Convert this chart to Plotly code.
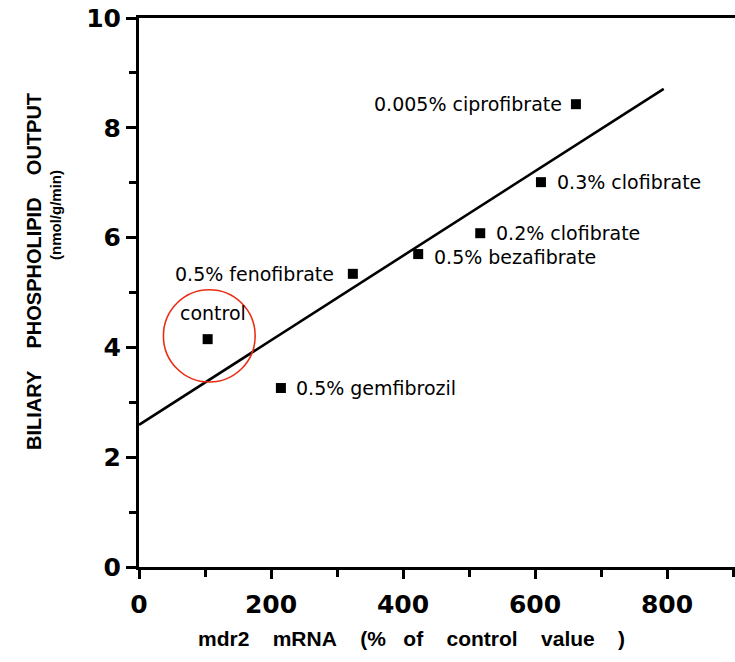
import plotly.graph_objects as go

# Data
drugs = ["control", "0.5% gemfibrozil", "0.5% fenofibrate", "0.5% bezafibrate",
         "0.2% clofibrate", "0.3% clofibrate", "0.005% ciprofibrate"]
mdr2_mrna = [104, 215, 324, 423, 517, 609, 662]
phospholipid = [4.15, 3.26, 5.34, 5.70, 6.08, 7.01, 8.43]

# regression line end points
fit_x = [0, 795]
fit_y = [2.59, 8.71]

x_tickvals = [0, 200, 400, 600, 800]
x_minor = [100, 300, 500, 700, 900]
y_tickvals = [0, 2, 4, 6, 8, 10]
y_minor = [1, 3, 5, 7, 9]

# highlight circle around control (data coords)
circle_box = dict(x0=37, x1=176, y0=3.37, y1=5.05)

# label placement (style): (xanchor, xshift, yshift)
label_place = [("center", 5, 26), ("left", 13, 0), ("right", -17, 0),
               ("left", 14, -3), ("left", 14, 0), ("left", 14, 0), ("right", -12, 0)]

fig = go.Figure()
fig.add_trace(go.Scatter(x=fit_x, y=fit_y, mode="lines",
                         line=dict(color="black", width=2.6), hoverinfo="skip"))
fig.add_trace(go.Scatter(x=mdr2_mrna, y=phospholipid, mode="markers",
                         marker=dict(symbol="square", size=10, color="black"),
                         hoverinfo="skip"))

label_font = dict(family="DejaVu Sans", size=19, color="black")
for name, xv, yv, (anc, xs, ys) in zip(drugs, mdr2_mrna, phospholipid, label_place):
    fig.add_annotation(x=xv, y=yv, text=name, showarrow=False, xanchor=anc,
                       yanchor="middle", xshift=xs, yshift=ys, font=label_font)

fig.add_shape(type="circle", xref="x", yref="y", **circle_box,
              line=dict(color="rgb(235,45,20)", width=1.6))

nb = "\u00a0"
fig.add_annotation(xref="paper", yref="paper", x=-139/596 + 34/596, y=(567-272)/549,
                   text=f"BILIARY{nb*4}PHOSPHOLIPID{nb*4}OUTPUT", textangle=-90,
                   showarrow=False, xanchor="center", yanchor="middle",
                   font=dict(family="Arial", size=20, color="black", weight="bold"))
fig.add_annotation(xref="paper", yref="paper", x=-139/596 + 55/596, y=(567-215)/549,
                   text="(nmol/g/min)", textangle=-90,
                   showarrow=False, xanchor="center", yanchor="middle",
                   font=dict(family="Arial", size=15, color="black", weight="bold"))
fig.add_annotation(xref="paper", yref="paper", x=(411-139)/596, y=(567-638)/549,
                   text=f"mdr2{nb*4}mRNA{nb*4}(%{nb*3}of{nb*4}control{nb*4}value{nb*4})",
                   showarrow=False, xanchor="center", yanchor="middle",
                   font=dict(family="Arial", size=21, color="black", weight="bold"))

tick_font = dict(family="DejaVu Sans", size=25, color="black", weight="bold")
fig.update_xaxes(range=[0, 903], tickvals=x_tickvals, ticks="outside", ticklen=9,
                 tickwidth=2.5, tickcolor="black", showline=True, linewidth=3,
                 linecolor="black", mirror=True, showgrid=False, zeroline=False,
                 tickfont=tick_font, ticklabelstandoff=4,
                 minor=dict(tickvals=x_minor, ticks="outside", ticklen=7,
                            tickwidth=2.5, tickcolor="black", showgrid=False))
fig.update_yaxes(range=[0, 10], tickvals=y_tickvals, ticks="outside", ticklen=10,
                 tickwidth=2.5, tickcolor="black", showline=True, linewidth=3,
                 linecolor="black", showgrid=False, zeroline=False,
                 tickfont=tick_font, ticklabelstandoff=0,
                 minor=dict(tickvals=y_minor, ticks="outside", ticklen=7,
                            tickwidth=2.5, tickcolor="black", showgrid=False))

fig.update_layout(width=735, height=662, showlegend=False,
                  margin=dict(l=139, r=0, t=18, b=95),
                  plot_bgcolor="white", paper_bgcolor="white")

fig.write_html("out.html")
